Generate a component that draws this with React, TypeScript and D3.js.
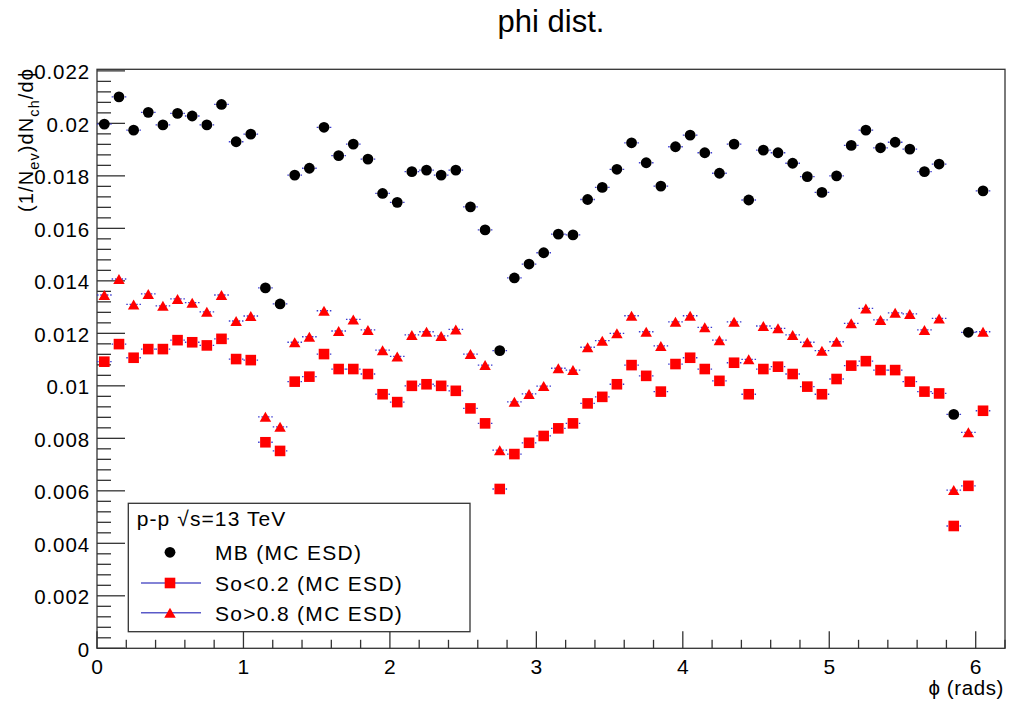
import React from 'react';
import * as d3 from 'd3';

const phiBins = [
  0.05, 0.15, 0.25, 0.35, 0.45, 0.55, 0.65, 0.75, 0.85, 0.95,
  1.05, 1.15, 1.25, 1.35, 1.45, 1.55, 1.65, 1.75, 1.85, 1.95,
  2.05, 2.15, 2.25, 2.35, 2.45, 2.55, 2.65, 2.75, 2.85, 2.95,
  3.05, 3.15, 3.25, 3.35, 3.45, 3.55, 3.65, 3.75, 3.85, 3.95,
  4.05, 4.15, 4.25, 4.35, 4.45, 4.55, 4.65, 4.75, 4.85, 4.95,
  5.05, 5.15, 5.25, 5.35, 5.45, 5.55, 5.65, 5.75, 5.85, 5.95,
  6.05,
];

const mbValues = [
  0.01997, 0.02101, 0.01974, 0.02042, 0.01994, 0.02038, 0.02028, 0.01994, 0.02072, 0.01930,
  0.01959, 0.01373, 0.01312, 0.01803, 0.01829, 0.01985, 0.01877, 0.01921, 0.01864, 0.01733,
  0.01699, 0.01816, 0.01822, 0.01803, 0.01822, 0.01682, 0.01594, 0.01134, 0.01411, 0.01464,
  0.01507, 0.01578, 0.01575, 0.01710, 0.01756, 0.01825, 0.01926, 0.01850, 0.01761, 0.01911,
  0.01955, 0.01888, 0.01810, 0.01921, 0.01708, 0.01898, 0.01888, 0.01848, 0.01797, 0.01737,
  0.01800, 0.01916, 0.01974, 0.01907, 0.01928, 0.01902, 0.01816, 0.01845, 0.00891, 0.01204,
  0.01743,
];

const soLowValues = [
  0.01092, 0.01159, 0.01107, 0.01140, 0.01140, 0.01174, 0.01166, 0.01154, 0.01179, 0.01102,
  0.01098, 0.00785, 0.00752, 0.01016, 0.01035, 0.01121, 0.01064, 0.01064, 0.01045, 0.00968,
  0.00938, 0.01000, 0.01006, 0.01000, 0.00981, 0.00914, 0.00857, 0.00607, 0.00740, 0.00783,
  0.00809, 0.00838, 0.00857, 0.00933, 0.00958, 0.01006, 0.01079, 0.01038, 0.00978, 0.01083,
  0.01107, 0.01064, 0.01019, 0.01088, 0.00968, 0.01064, 0.01073, 0.01045, 0.00997, 0.00968,
  0.01026, 0.01077, 0.01094, 0.01060, 0.01060, 0.01016, 0.00978, 0.00971, 0.00466, 0.00619,
  0.00905,
];

const soHighValues = [
  0.01346, 0.01407, 0.01310, 0.01350, 0.01305, 0.01331, 0.01317, 0.01282, 0.01346, 0.01247,
  0.01266, 0.00882, 0.00844, 0.01166, 0.01187, 0.01286, 0.01209, 0.01253, 0.01213, 0.01136,
  0.01112, 0.01194, 0.01206, 0.01190, 0.01215, 0.01121, 0.01079, 0.00755, 0.00939, 0.00969,
  0.00999, 0.01067, 0.01060, 0.01147, 0.01172, 0.01200, 0.01267, 0.01206, 0.01152, 0.01244,
  0.01267, 0.01223, 0.01174, 0.01244, 0.01101, 0.01228, 0.01219, 0.01194, 0.01166, 0.01134,
  0.01168, 0.01238, 0.01295, 0.01251, 0.01278, 0.01274, 0.01213, 0.01257, 0.00603, 0.00823,
  0.01206,
];

const binHalfWidth = 0.05;

const xTickValues = [0, 1, 2, 3, 4, 5, 6];
const xTickLabels = ['0', '1', '2', '3', '4', '5', '6'];
const yTickValues = [0, 0.002, 0.004, 0.006, 0.008, 0.01, 0.012, 0.014, 0.016, 0.018, 0.02, 0.022];
const yTickLabels = ['0', '0.002', '0.004', '0.006', '0.008', '0.01', '0.012', '0.014', '0.016', '0.018', '0.02', '0.022'];

const titleText = 'phi dist.';
const xTitle = 'ϕ (rads)';
const legendHeader = 'p-p √s=13 TeV';
const seriesNames = ['MB (MC ESD)', 'So<0.2 (MC ESD)', 'So>0.8 (MC ESD)'];

const W = 1019;
const H = 704;
const FONT = '"Liberation Sans", Arial, Helvetica, sans-serif';
const ERR_COLOR = '#3a3ad0';

const x = d3.scaleLinear().domain([0, 6.2]).range([97, 1005]);
const y = d3.scaleLinear().domain([0, 0.02206]).range([648.3, 69.3]);

const triPath = (w: number, h: number) => {
  const p = d3.path();
  p.moveTo(0, -h / 2);
  p.lineTo(w / 2, h / 2);
  p.lineTo(-w / 2, h / 2);
  p.closePath();
  return p.toString();
};

function Marker({ kind, cx, cy }: { kind: string; cx: number; cy: number }) {
  if (kind === 'circle') return <circle cx={cx} cy={cy} r={5.4} fill="#000" />;
  if (kind === 'square')
    return <rect x={cx - 5.3} y={cy - 5.3} width={10.6} height={10.6} fill="#ff0000" />;
  return <path d={triPath(11.5, 10)} transform={`translate(${cx},${cy})`} fill="#ff0000" />;
}

function Series({ values, kind }: { values: number[]; kind: string }) {
  return (
    <g>
      {values.map((v, i) => (
        <line
          key={'e' + i}
          x1={x(phiBins[i] - binHalfWidth)}
          x2={x(phiBins[i] + binHalfWidth)}
          y1={y(v)}
          y2={y(v)}
          stroke={ERR_COLOR}
          strokeWidth={1.3}
          strokeDasharray="1.5,1.8"
        />
      ))}
      {values.map((v, i) => (
        <Marker key={'m' + i} kind={kind} cx={x(phiBins[i])} cy={y(v)} />
      ))}
    </g>
  );
}

export default function App() {
  const [x0, x1] = x.range();
  const [yb, yt] = y.range();
  const xMinor = d3.range(0, 6.2 + 1e-9, 0.2).filter((t) => Math.abs(t - Math.round(t)) > 1e-6);
  const yMinor = d3.range(0, 0.02206, 0.0004).filter((t) => Math.abs(t / 0.002 - Math.round(t / 0.002)) > 1e-6);

  const seriesKinds = ['circle', 'square', 'triangle'];
  const legendRows = [560, 590.7, 620.5];

  return (
    <svg
      width={W}
      height={H}
      style={{ position: 'absolute', left: 0, top: 0, background: '#fff' }}
      fontFamily={FONT}
    >
      <rect x={0} y={0} width={W} height={H} fill="#fff" />
      {/* Title */}
      <text x={551} y={32} textAnchor="middle" fontSize={31} fill="#000">
        {titleText}
      </text>

      {/* Frame */}
      <rect x={x0} y={yt} width={x1 - x0} height={yb - yt} fill="none" stroke="#333" strokeWidth={1.3} />

      {/* Y axis ticks */}
      {yTickValues.map((t) => (
        <line key={'ym' + t} x1={x0} x2={x0 + 28} y1={y(t)} y2={y(t)} stroke="#333" strokeWidth={1.3} />
      ))}
      {yMinor.map((t, i) => (
        <line key={'yn' + i} x1={x0} x2={x0 + 14} y1={y(t)} y2={y(t)} stroke="#333" strokeWidth={1.3} />
      ))}
      {yTickValues.map((t, i) => (
        <text
          key={'yl' + t}
          x={90}
          y={y(t) + 8.6}
          textAnchor="end"
          fontSize={20.5}
          letterSpacing={0.9}
          fill="#000"
        >
          {yTickLabels[i]}
        </text>
      ))}

      {/* X axis ticks */}
      {xTickValues.map((t) => (
        <line key={'xm' + t} x1={x(t)} x2={x(t)} y1={yb} y2={yb - 17} stroke="#333" strokeWidth={1.3} />
      ))}
      {xMinor.map((t, i) => (
        <line key={'xn' + i} x1={x(t)} x2={x(t)} y1={yb} y2={yb - 8.5} stroke="#333" strokeWidth={1.3} />
      ))}
      {xTickValues.map((t, i) => (
        <text key={'xl' + t} x={x(t)} y={673.5} textAnchor="middle" fontSize={21} fill="#000">
          {xTickLabels[i]}
        </text>
      ))}

      {/* Axis titles */}
      <text x={1004} y={695} textAnchor="end" fontSize={20.5} letterSpacing={0.6} fill="#000">
        {xTitle}
      </text>
      <text
        transform="translate(33,68) rotate(-90)"
        textAnchor="end"
        fontSize={20}
        letterSpacing={1.1}
        fill="#000"
      >
        <tspan>(1/N</tspan>
        <tspan fontSize={14.5} dy={6}>ev</tspan>
        <tspan dy={-6}>)dN</tspan>
        <tspan fontSize={14.5} dy={6}>ch</tspan>
        <tspan dy={-6}>/dϕ</tspan>
      </text>

      {/* Data */}
      <Series values={mbValues} kind="circle" />
      <Series values={soLowValues} kind="square" />
      <Series values={soHighValues} kind="triangle" />

      {/* Legend */}
      <rect x={128.3} y={503.3} width={341.7} height={128.4} fill="#fff" stroke="#333" strokeWidth={1.3} />
      <text x={136.7} y={525.5} fontSize={21} letterSpacing={1.1} fill="#000">
        {legendHeader}
      </text>
      {seriesNames.map((name, i) => {
        const cy = legendRows[i] - 7.7;
        return (
          <g key={name}>
            {i > 0 && <line x1={141} x2={201} y1={cy} y2={cy} stroke="#5a5ac8" strokeWidth={1.6} />}
            <Marker kind={seriesKinds[i]} cx={170} cy={cy} />
            <text x={215} y={legendRows[i]} fontSize={21} letterSpacing={1.3} fill="#000">
              {name}
            </text>
          </g>
        );
      })}
    </svg>
  );
}
